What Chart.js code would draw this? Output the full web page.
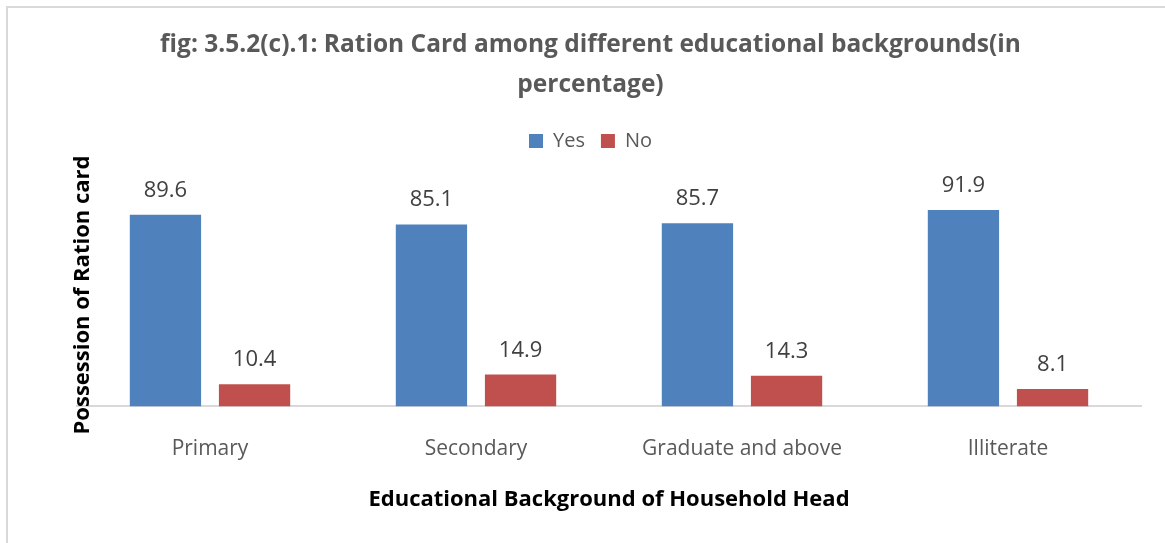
<!DOCTYPE html>
<html>
<head>
<meta charset="utf-8">
<script src="https://cdn.jsdelivr.net/npm/chart.js@4/dist/chart.umd.min.js"></script>
<style>
  body { margin: 0; background: #fff; }
  #frame { position: absolute; left: 6px; top: 6px; width: 1300px; height: 700px; border: 2px solid #d9d9d9; box-sizing: border-box; }
  #wrap { position: absolute; left: 0; top: 0; width: 1165px; height: 543px; }
</style>
</head>
<body>
<div id="frame"></div>
<div id="wrap"><canvas id="rationChart"></canvas></div>
<script>
var categories = ['Primary', 'Secondary', 'Graduate and above', 'Illiterate'];
var yesValues = [89.6, 85.1, 85.7, 91.9];
var noValues = [10.4, 14.9, 14.3, 8.1];
var titleLines = ['fig: 3.5.2(c).1: Ration Card among different educational backgrounds(in', 'percentage)'];
var yTitle = 'Possession of Ration card';
var xTitle = 'Educational Background of Household Head';

var fontFamily = '"Open Sans", sans-serif';

// value labels above bars + rotated y title
var extraText = {
    id: 'extraText',
    afterDatasetsDraw: function(chart) {
        var ctx = chart.ctx;
        ctx.save();
        ctx.font = '22px ' + fontFamily;
        ctx.fillStyle = '#404040';
        ctx.textAlign = 'center';
        ctx.textBaseline = 'alphabetic';
        chart.data.datasets.forEach(function(ds, i) {
            var meta = chart.getDatasetMeta(i);
            meta.data.forEach(function(bar, j) {
                ctx.fillText(ds.data[j].toFixed(1), bar.x, bar.y - 18);
            });
        });
        ctx.font = 'bold 22px ' + fontFamily;
        ctx.fillStyle = '#000';
        ctx.translate(83, 295);
        ctx.rotate(-Math.PI / 2);
        ctx.textBaseline = 'middle';
        ctx.fillText(yTitle, 0, 0);
        ctx.restore();
    }
};

var ctx = document.getElementById('rationChart').getContext('2d');
var rationChart = new Chart(ctx, {
    type: 'bar',
    data: {
        labels: categories,
        datasets: [{
            label: 'Yes',
            data: yesValues,
            backgroundColor: '#4f81bd',
            categoryPercentage: 0.67,
            barPercentage: 0.8
        }, {
            label: 'No',
            data: noValues,
            backgroundColor: '#c0504d',
            categoryPercentage: 0.67,
            barPercentage: 0.8
        }]
    },
    options: {
        responsive: true,
        maintainAspectRatio: false,
        animation: false,
        layout: {
            padding: { left: 40, right: 24, top: 0, bottom: 30 }
        },
        scales: {
            y: {
                min: 0,
                max: 114.8,
                grid: { display: false, drawTicks: false },
                border: { display: false },
                ticks: { display: false },
                afterFit: function(scale) { scale.width = 37; }
            },
            x: {
                grid: { display: false, drawTicks: false },
                border: { color: '#d9d9d9', width: 2 },
                ticks: {
                    color: '#595959',
                    padding: 30,
                    font: { size: 21, family: fontFamily }
                },
                title: {
                    display: true,
                    text: xTitle,
                    color: '#000',
                    padding: { top: -5, bottom: 0 },
                    font: { size: 22, weight: 'bold', family: fontFamily }
                }
            }
        },
        plugins: {
            title: {
                display: true,
                text: titleLines,
                color: '#595959',
                padding: { top: 25, bottom: 10 },
                font: { size: 24.5, weight: 'bold', family: fontFamily, lineHeight: '40px' }
            },
            legend: {
                position: 'top',
                labels: {
                    color: '#595959',
                    boxWidth: 14,
                    boxHeight: 14,
                    padding: 16,
                    font: { size: 20, family: fontFamily }
                }
            },
            tooltip: { enabled: false }
        }
    },
    plugins: [extraText]
});
</script>
</body>
</html>
